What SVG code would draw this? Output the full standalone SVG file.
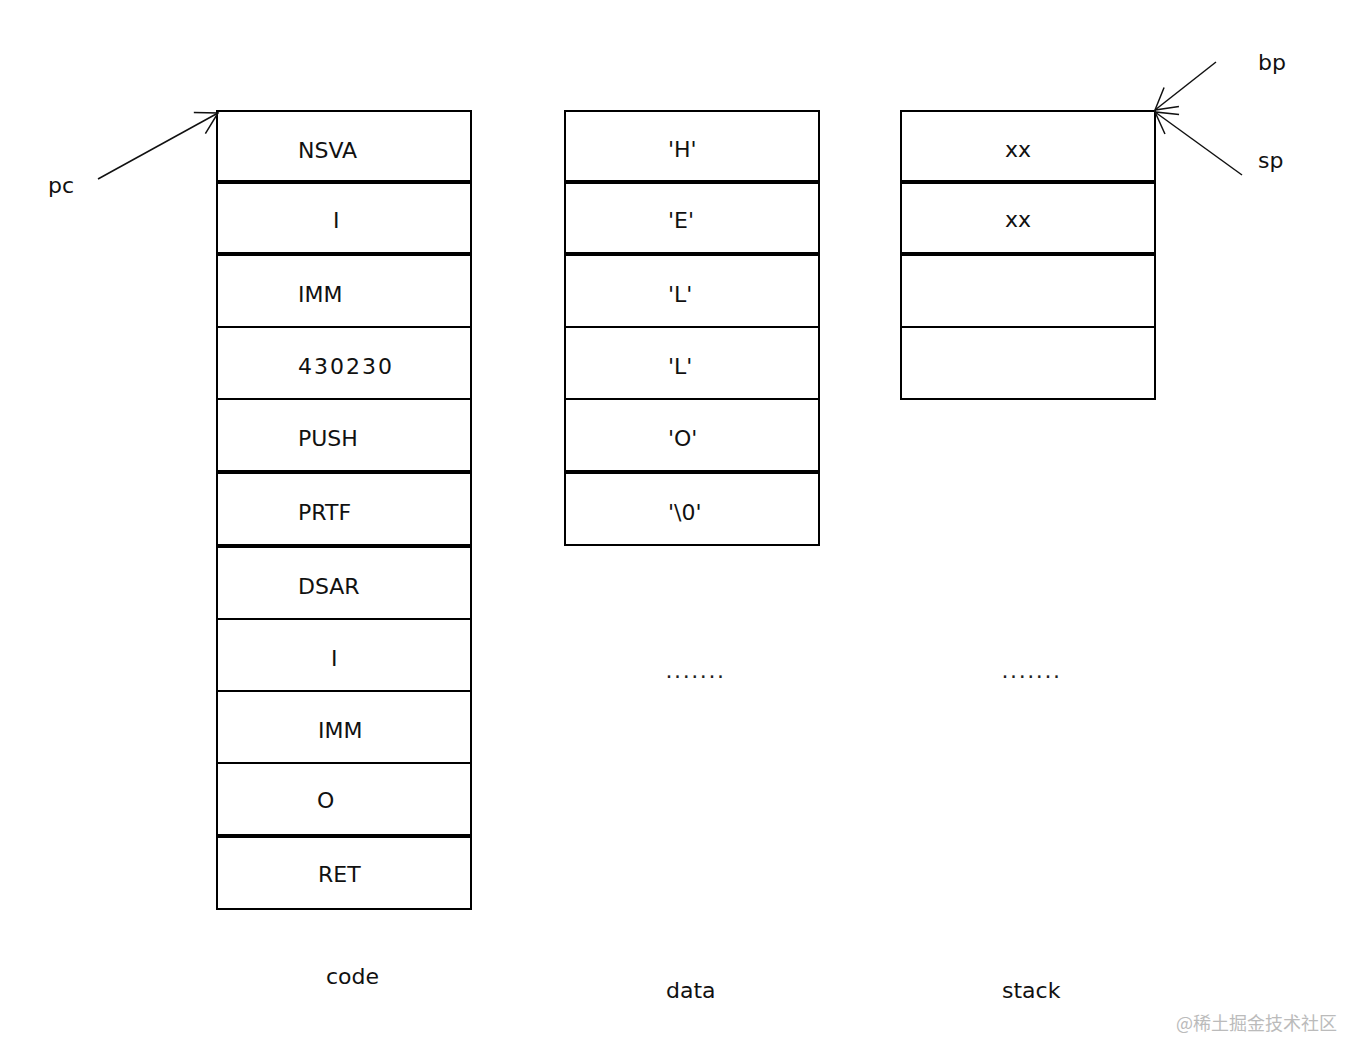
<svg xmlns="http://www.w3.org/2000/svg" width="1364" height="1062" viewBox="0 0 1364 1062">
<style>
.cell{fill:#fff;stroke:#000;stroke-width:2}
.t{font-family:"DejaVu Sans","Liberation Sans",sans-serif;font-size:22px;fill:#111}
.dots{font-family:"DejaVu Sans",sans-serif;font-size:22px;fill:#222;letter-spacing:1.6px}
.arr{stroke:#111;stroke-width:1.5;fill:none}
.wm{font-family:"Noto Sans CJK SC","DejaVu Sans",sans-serif;font-size:18px;fill:#bbb}
</style>
<defs>
<marker id="ah" markerUnits="userSpaceOnUse" markerWidth="30" markerHeight="30" viewBox="-26 -15 30 30" refX="0" refY="0" orient="auto">
<path d="M-21,-12 L0,0 L-21,12" fill="none" stroke="#111" stroke-width="1.5"/>
</marker>
</defs>
<rect width="1364" height="1062" fill="#fff"/>
<g id="code">
<g id="code-1"><rect class="cell" x="217" y="111" width="254" height="70"/><text class="t" x="298" y="158">NSVA</text></g>
<g id="code-2"><rect class="cell" x="217" y="183" width="254" height="70"/><text class="t" x="333" y="228">I</text></g>
<g id="code-3"><rect class="cell" x="217" y="255" width="254" height="72"/><text class="t" x="298" y="302">IMM</text></g>
<g id="code-4"><rect class="cell" x="217" y="327" width="254" height="72"/><text class="t" x="298" y="374" letter-spacing="2">430230</text></g>
<g id="code-5"><rect class="cell" x="217" y="399" width="254" height="72"/><text class="t" x="298" y="446">PUSH</text></g>
<g id="code-6"><rect class="cell" x="217" y="473" width="254" height="72"/><text class="t" x="298" y="520">PRTF</text></g>
<g id="code-7"><rect class="cell" x="217" y="547" width="254" height="72"/><text class="t" x="298" y="594">DSAR</text></g>
<g id="code-8"><rect class="cell" x="217" y="619" width="254" height="72"/><text class="t" x="331" y="666">I</text></g>
<g id="code-9"><rect class="cell" x="217" y="691" width="254" height="72"/><text class="t" x="318" y="738">IMM</text></g>
<g id="code-10"><rect class="cell" x="217" y="763" width="254" height="72"/><text class="t" x="317" y="808">O</text></g>
<g id="code-11"><rect class="cell" x="217" y="837" width="254" height="72"/><text class="t" x="318" y="882">RET</text></g>
<text class="t" x="326" y="984">code</text>
</g>
<g id="data">
<g id="data-1"><rect class="cell" x="565" y="111" width="254" height="70"/><text class="t" x="668" y="157">'H'</text></g>
<g id="data-2"><rect class="cell" x="565" y="183" width="254" height="70"/><text class="t" x="668" y="228">'E'</text></g>
<g id="data-3"><rect class="cell" x="565" y="255" width="254" height="72"/><text class="t" x="668" y="302">'L'</text></g>
<g id="data-4"><rect class="cell" x="565" y="327" width="254" height="72"/><text class="t" x="668" y="374">'L'</text></g>
<g id="data-5"><rect class="cell" x="565" y="399" width="254" height="72"/><text class="t" x="668" y="446">'O'</text></g>
<g id="data-6"><rect class="cell" x="565" y="473" width="254" height="72"/><text class="t" x="668" y="520">'\0'</text></g>
<text class="dots" x="665.5" y="678">.......</text>
<text class="t" x="666" y="998">data</text>
</g>
<g id="stack">
<g id="stack-1"><rect class="cell" x="901" y="111" width="254" height="70"/><text class="t" x="1005" y="157">xx</text></g>
<g id="stack-2"><rect class="cell" x="901" y="183" width="254" height="70"/><text class="t" x="1005" y="227">xx</text></g>
<g id="stack-3"><rect class="cell" x="901" y="255" width="254" height="72"/></g>
<g id="stack-4"><rect class="cell" x="901" y="327" width="254" height="72"/></g>
<text class="dots" x="1001.5" y="678">.......</text>
<text class="t" x="1002" y="998">stack</text>
</g>
<g id="labels">
<text class="t" x="48" y="193">pc</text>
<text class="t" x="1258" y="70">bp</text>
<text class="t" x="1258" y="168">sp</text>
</g>
<g id="connectors">
<line class="arr" x1="98" y1="179" x2="218" y2="113" marker-end="url(#ah)"/>
<line class="arr" x1="1216" y1="62" x2="1155" y2="110" marker-end="url(#ah)"/>
<line class="arr" x1="1242" y1="175" x2="1155" y2="112" marker-end="url(#ah)"/>
</g>
<text class="wm" x="1176" y="1030">@稀土掘金技术社区</text>
</svg>
